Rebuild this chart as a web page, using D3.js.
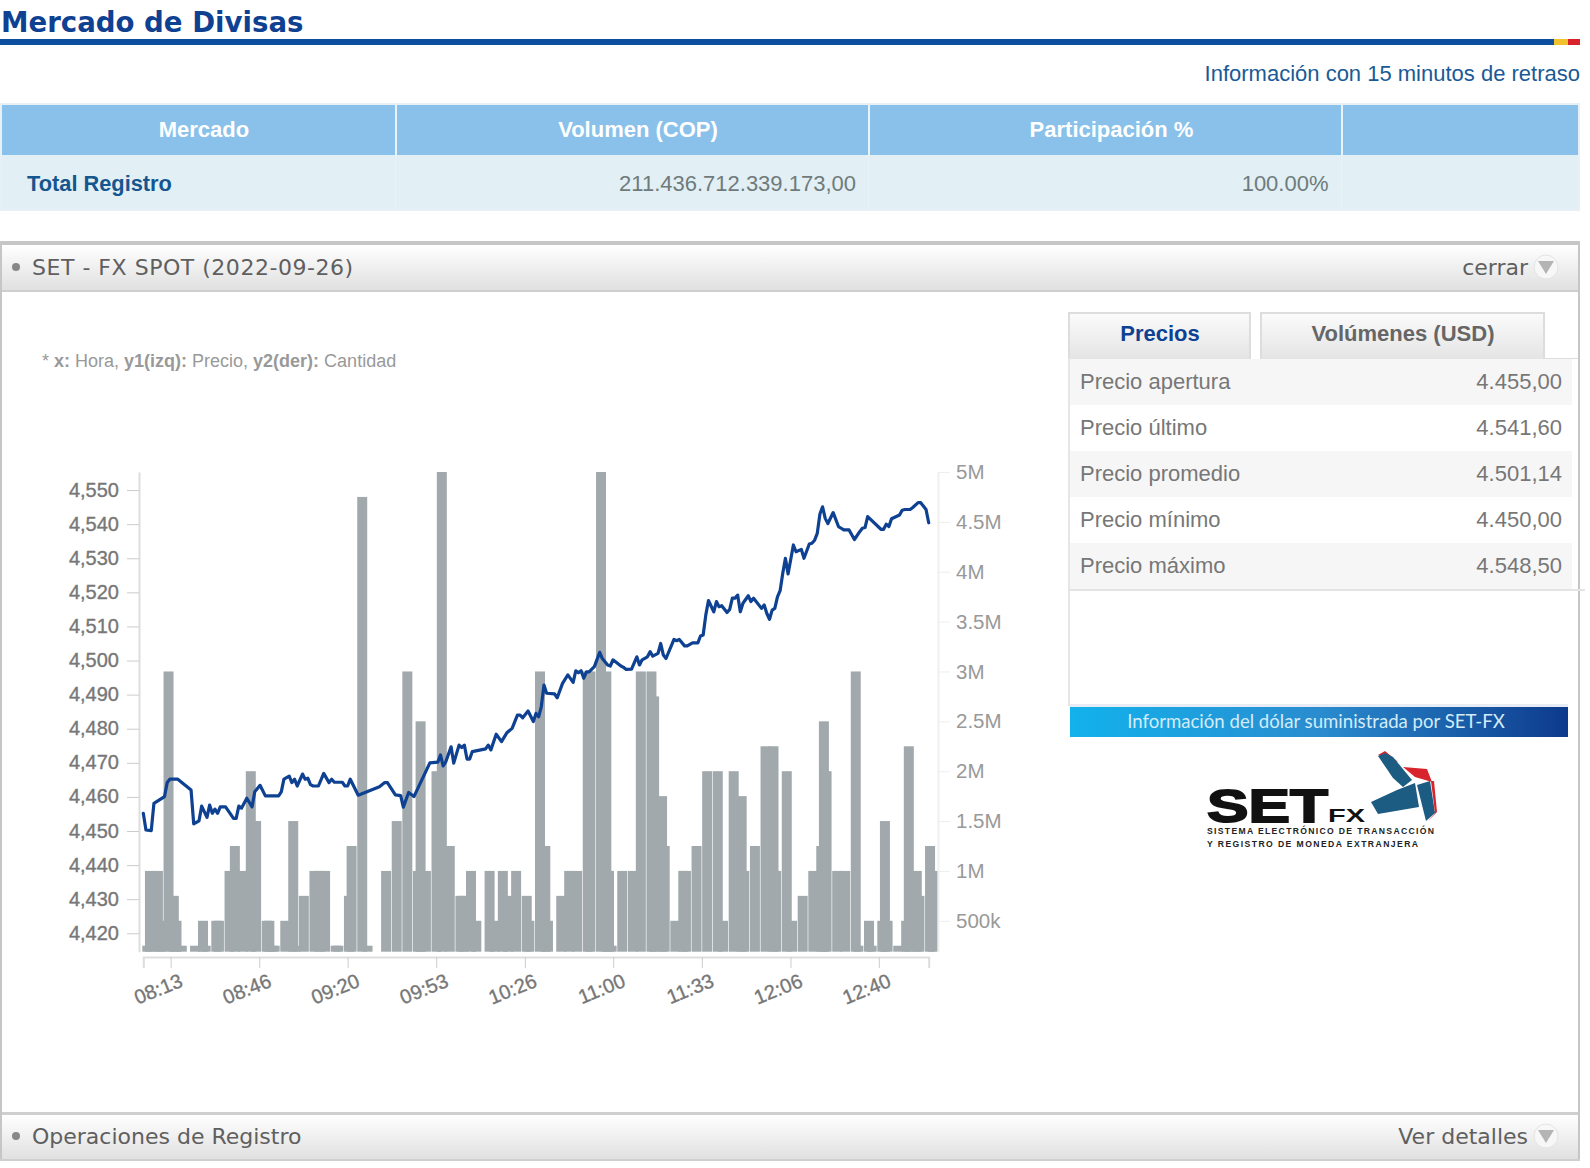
<!DOCTYPE html>
<html>
<head>
<meta charset="utf-8">
<title>Mercado de Divisas</title>
<script src="https://cdn.jsdelivr.net/npm/d3@7"></script>
<style>
  html, body { margin: 0; padding: 0; background: #fff; }
  svg { display: block; }
  text { font-family: "Liberation Sans", Arial, sans-serif; }
  .verdana { font-family: "DejaVu Sans", Verdana, sans-serif; }
</style>
</head>
<body>
<svg id="page" width="1590" height="1168"></svg>
<script>
// minutes after 08:03 for each price point
const priceMinutes = [0,1,3,4,8,9,10,13,18,19,21,22,24,25,26,27,28,29,31,34,35,36,37,39,41,42,44,46,51,52,53,55,56,57,58,60,61,62,63,64,66,68,70,71,72,75,76,77,78,81,89,91,92,95,97,98,100,102,108,111,112,113,114,116,117,119,120,121,122,123,124,129,130,131,133,135,137,139,141,142,143,145,147,148,149,150,151,152,155,156,158,160,162,163,164,165,166,167,168,170,172,173,175,176,177,180,181,182,184,186,187,188,190,191,192,194,195,196,197,200,201,202,204,205,207,209,210,211,212,213,215,216,217,218,220,221,222,223,224,225,226,228,229,230,233,234,235,236,237,238,239,240,241,242,243,245,246,248,249,251,252,253,254,255,256,257,258,260,262,263,264,266,268,270,271,272,273,278,279,280,281,282,285,286,287,289,290,292,293,295,296];
const priceValues = [4455.2,4450.3,4450.1,4458.1,4460.1,4464.2,4465.2,4465.2,4462,4452.1,4453,4457.3,4454,4457.6,4455.2,4456.4,4455.2,4457.1,4457.1,4453.7,4453.7,4457.3,4456.7,4459.6,4457.1,4461.5,4463.4,4460.3,4460.3,4461.5,4465.2,4466.1,4464.2,4465.2,4463.2,4466.7,4465.2,4465.5,4463.6,4463.2,4463.2,4466.9,4464.2,4465.2,4464.3,4464.3,4463.2,4463.2,4465.2,4460.5,4463,4464.2,4464.2,4460.6,4460.4,4457,4461.3,4460.1,4470,4470.2,4472.3,4469.1,4470.3,4474.7,4469.9,4475.2,4474.5,4475.2,4471.1,4471.1,4473.3,4474.1,4475.2,4473.8,4478.4,4476.2,4478.8,4480.1,4484,4484,4483.2,4485.2,4482.1,4484.5,4483.5,4486.5,4492.8,4490.4,4490.2,4489.1,4493.3,4495.8,4493.6,4497,4496.4,4497,4494.8,4496.7,4496.7,4498.2,4502.4,4500.6,4498.7,4498.4,4500.2,4498.4,4498,4497.4,4497.5,4501.1,4498.7,4500.2,4501.1,4502.6,4501.3,4502.1,4505,4501.6,4500.6,4506.2,4505.8,4506.2,4504.3,4504.3,4505.2,4505.2,4507.2,4507.5,4513.4,4517.6,4514.3,4517.3,4515.8,4516.1,4514.1,4515,4518.3,4518.3,4519.2,4514.3,4516.8,4519,4517.3,4518.3,4515.3,4516.3,4513.8,4512.1,4514.8,4515.3,4518.7,4520.5,4525.6,4530,4525.4,4533.9,4531.9,4532.6,4530,4534.2,4534.4,4535.3,4537.3,4543,4545.1,4541.7,4540.2,4543.4,4539.3,4538.8,4538.3,4538.3,4535.5,4537.8,4538.8,4539,4542.2,4538.5,4538.5,4540,4539.3,4541.6,4542.7,4544.1,4544.3,4544.3,4544.9,4546.3,4546.3,4544.3,4540.4];

// volume bars
const barMinutes = [0,1,4,5,8,10,11,13,18,21,22,26,27,31,33,36,39,41,45,46,47,48,52,55,56,59,63,65,67,71,72,76,77,81,83,90,94,98,102,103,105,109,111,114,118,119,122,124,129,131,134,136,139,143,144,148,150,151,156,159,162,166,167,171,173,174,175,179,183,186,190,191,194,195,199,202,203,207,211,215,217,221,224,225,229,233,236,237,241,243,247,251,254,255,256,260,263,267,268,272,273,277,278,279,283,286,287,290,291,295,296];
const barVolumes = [250000,1000000,1000000,500000,3000000,750000,500000,250000,250000,500000,250000,500000,500000,1000000,1250000,1000000,2000000,1500000,500000,500000,250000,250000,500000,1500000,250000,750000,1000000,1000000,1000000,250000,250000,750000,1250000,4750000,250000,1000000,1500000,3000000,1000000,2500000,1000000,2000000,5000000,1250000,750000,750000,1000000,500000,1000000,500000,1000000,750000,1000000,750000,500000,3000000,1250000,500000,750000,1000000,1000000,3000000,3000000,5000000,3000000,1000000,250000,1000000,1000000,3000000,3000000,2750000,1750000,1250000,500000,1000000,1000000,1250000,2000000,2000000,500000,2000000,1750000,1000000,1250000,2250000,2250000,1000000,2000000,500000,750000,1000000,1250000,2500000,2000000,1000000,1000000,3000000,250000,500000,250000,500000,1500000,500000,250000,500000,2250000,1000000,750000,1250000,1000000];

const xTickMinutes = [10.3,43.7,77,110.4,143.8,177.1,210.5,243.9,277.2];
const xTickLabels = ['08:13','08:46','09:20','09:53','10:26','11:00','11:33','12:06','12:40'];
const priceTicks = [4420,4430,4440,4450,4460,4470,4480,4490,4500,4510,4520,4530,4540,4550];
const volumeTicks = [500000,1000000,1500000,2000000,2500000,3000000,3500000,4000000,4500000,5000000];

const summaryHeaders = ['Mercado','Volumen (COP)','Participación %'];
const summaryRow = ['Total Registro','211.436.712.339.173,00','100.00%'];
const statLabels = ['Precio apertura','Precio último','Precio promedio','Precio mínimo','Precio máximo'];
const statValues = ['4.455,00','4.541,60','4.501,14','4.450,00','4.548,50'];

const svg = d3.select('#page');

// gradients
const defs = svg.append('defs');
function vGrad(id, a, b) {
  const g = defs.append('linearGradient').attr('id', id).attr('x1', 0).attr('x2', 0).attr('y1', 0).attr('y2', 1);
  g.append('stop').attr('offset', '0%').attr('stop-color', a);
  g.append('stop').attr('offset', '100%').attr('stop-color', b);
}
vGrad('bar', '#ffffff', '#e0e0e0');
vGrad('tab', '#fbfbfb', '#e4e4e4');
const bannerGrad = defs.append('linearGradient').attr('id', 'banner');
bannerGrad.append('stop').attr('offset', '0%').attr('stop-color', '#12b2ec');
bannerGrad.append('stop').attr('offset', '50%').attr('stop-color', '#2a8ccf');
bannerGrad.append('stop').attr('offset', '100%').attr('stop-color', '#0d3a8c');

function rect(x, y, w, h, fill) {
  return svg.append('rect').attr('x', x).attr('y', y).attr('width', w).attr('height', h).attr('fill', fill);
}
function label(x, y, str, size, color, anchor, weight) {
  return svg.append('text').attr('x', x).attr('y', y).text(str)
    .attr('font-size', size).attr('fill', color)
    .attr('text-anchor', anchor || 'start').attr('font-weight', weight || 'normal');
}

// page header
label(1, 32, 'Mercado de Divisas', 27.6, '#0e4192', 'start', 'bold').attr('class', 'verdana');
rect(0, 39, 1554, 6, '#0b4f9e');
rect(1554, 39, 14, 6, '#f1c12e');
rect(1568, 39, 12, 6, '#d8232a');
label(1580, 81, 'Información con 15 minutos de retraso', 22, '#1a5a96', 'end');

// summary table
rect(0, 103, 1580, 108, '#e6f0f6');
rect(2, 105, 1576, 50, '#89c1ea');
rect(2, 155, 1576, 54, '#e2eff5');
[396, 869, 1342].forEach(x => {
  rect(x - 1, 105, 2, 50, '#e8f3fb');
  rect(x - 1, 155, 1, 54, '#eaf2f6');
});
[204, 638, 1111.5].forEach((x, i) => label(x, 137, summaryHeaders[i], 22, '#fff', 'middle', 'bold'));
label(27, 191, summaryRow[0], 21.8, '#15568f', 'start', 'bold');
label(856, 191, summaryRow[1], 22, '#6f7b7b', 'end');
label(1328.5, 191, summaryRow[2], 22, '#6f7b7b', 'end');

// collapsible panel frame
function panelBar(y, h, title, action, baseline, titleLength) {
  const iconX = 1546;
  rect(2, y, 1576, h, 'url(#bar)');
  const t = label(32, baseline, title, 22, '#5f5f5f').attr('class', 'verdana');
  if (titleLength) t.attr('textLength', titleLength).attr('lengthAdjust', 'spacing');
  svg.append('circle').attr('cx', 16).attr('cy', baseline - 8).attr('r', 4).attr('fill', '#888');
  label(1528, baseline, action, 22, '#5f5f5f', 'end').attr('class', 'verdana');
  svg.append('circle').attr('cx', iconX).attr('cy', baseline - 8).attr('r', 12)
    .attr('fill', '#f7f7f7').attr('stroke', '#e4e4e4');
  svg.append('path').attr('fill', '#b4b4b4')
    .attr('d', d3.line()([[iconX - 8, baseline - 14], [iconX + 8, baseline - 14], [iconX, baseline - 1]]) + 'Z');
}
panelBar(245, 45, 'SET - FX SPOT (2022-09-26)', 'cerrar', 275, 321);
panelBar(1115, 44, 'Operaciones de Registro', 'Ver detalles', 1144);
rect(0, 241, 1580, 4, '#c6c6c6');
rect(0, 241, 2, 919, '#c6c6c6');
rect(1578, 241, 2, 919, '#c6c6c6');
rect(2, 290, 1576, 2, '#cfcfcf');
rect(2, 1112, 1576, 3, '#cfcfcf');
rect(0, 1159, 1580, 2, '#cfcfcf');

// axis legend note
const note = svg.append('text').attr('x', 42).attr('y', 367).attr('font-size', 18).attr('fill', '#999');
[['* ', false], ['x:', true], [' Hora, ', false], ['y1(izq):', true], [' Precio, ', false], ['y2(der):', true], [' Cantidad', false]]
  .forEach(d => note.append('tspan').attr('font-weight', d[1] ? 'bold' : 'normal').text(d[0]));

// Scales
const x = d3.scaleLinear().domain([0, 296]).range([143.3, 928.7]);
const yPrice = d3.scaleLinear().domain([4414.6, 4555.3]).range([951.7, 472]);
const yVolume = d3.scaleLinear().domain([190000, 5000000]).range([951.7, 472]);

// Bars
svg.append('g').selectAll('rect')
  .data(barMinutes.map((m, i) => ({ m, v: barVolumes[i] })))
  .join('rect')
  .attr('x', d => x(d.m) - 1)
  .attr('y', d => yVolume(d.v))
  .attr('width', 10)
  .attr('height', d => yVolume.range()[0] - yVolume(d.v))
  .attr('fill', '#a2a9ad');

// Line
const priceLine = d3.line().x(d => x(d[0])).y(d => yPrice(d[1]));
svg.append('path')
  .attr('d', priceLine(priceMinutes.map((m, i) => [m, priceValues[i]])))
  .attr('fill', 'none')
  .attr('stroke', '#0e4192')
  .attr('stroke-width', 3.2)
  .attr('stroke-linejoin', 'round')
  .attr('stroke-linecap', 'round');

// Axes
const axisLeft = svg.append('g').attr('transform', 'translate(139,0)')
  .call(d3.axisLeft(yPrice).tickValues(priceTicks).tickFormat(d3.format(',')).tickSize(12).tickSizeOuter(0));
axisLeft.select('.domain').attr('stroke', '#ddd').attr('stroke-width', 2);
axisLeft.selectAll('.tick line').attr('stroke', '#ccc');
axisLeft.selectAll('.tick text').attr('font-size', 20).attr('fill', '#777').attr('x', -20).attr('dy', '0.3em')
  .attr('stroke', '#777').attr('stroke-width', 0.35);

const axisRight = svg.append('g').attr('transform', 'translate(938,0)')
  .call(d3.axisRight(yVolume).tickValues(volumeTicks).tickFormat(d3.format('~s')).tickSize(12).tickSizeOuter(0));
axisRight.select('.domain').attr('stroke', '#f0f0f0').attr('stroke-width', 2);
axisRight.selectAll('.tick line').attr('stroke', '#eee');
axisRight.selectAll('.tick text').attr('font-size', 20.5).attr('fill', '#999').attr('x', 18);

const axisBottom = svg.append('g').attr('transform', 'translate(0,957)')
  .call(d3.axisBottom(x).tickValues(xTickMinutes).tickFormat((d, i) => xTickLabels[i]).tickSize(11).tickSizeOuter(11));
axisBottom.select('.domain').attr('stroke', '#ddd').attr('stroke-width', 2);
axisBottom.selectAll('.tick line').attr('stroke', '#ccc');
axisBottom.selectAll('.tick text')
  .attr('font-size', 20).attr('fill', '#777')
  .attr('stroke', '#777').attr('stroke-width', 0.35)
  .attr('text-anchor', 'end').attr('dy', null).attr('x', 13).attr('y', 29)
  .attr('transform', 'rotate(-22 13 29)');
svg.selectAll('.tick text').attr('font-family', '"Liberation Sans", Arial, sans-serif');

// Right side panel: tabs
rect(1068, 312, 183, 47, '#dddddd');
rect(1070, 314, 179, 45, 'url(#tab)');
rect(1260, 312, 285, 47, '#dddddd');
rect(1262, 314, 281, 45, 'url(#tab)');
label(1160, 341, 'Precios', 22, '#0e4192', 'middle', 'bold');
label(1403, 341, 'Volúmenes (USD)', 22, '#666', 'middle', 'bold');
rect(1545, 358, 33, 1, '#dddddd');
rect(1068, 358, 2, 348, '#e6e6e6');

// Right side panel: price stats
statLabels.forEach((s, i) => {
  const rowY = 359 + i * 46;
  if (i % 2 === 0) rect(1070, rowY, 502, 46, '#f6f6f6');
  label(1080, rowY + 30, s, 22, '#777');
  label(1562, rowY + 30, statValues[i], 22, '#777', 'end');
});
rect(1068, 589, 517, 2, '#e4e4e4');

// Banner
rect(1070, 704, 498, 3, '#e8edf5');
rect(1070, 707, 498, 30, 'url(#banner)');
label(1316, 728, 'Información del dólar suministrada por SET-FX', 18.6, '#d3ecf9', 'middle', 'normal')
  .style('font-family', 'Lato, "Open Sans", sans-serif');

// SET FX logo
label(1207, 822, 'SET', 47, '#111', 'start', 'bold')
  .attr('textLength', 121).attr('lengthAdjust', 'spacingAndGlyphs')
  .attr('stroke', '#111').attr('stroke-width', 1.8);
label(1328, 822, 'FX', 18, '#111', 'start', 'bold')
  .attr('textLength', 37).attr('lengthAdjust', 'spacingAndGlyphs');
label(1207, 833.5, 'SISTEMA ELECTRÓNICO DE TRANSACCIÓN', 8.6, '#222', 'start', 'bold')
  .attr('textLength', 227).attr('lengthAdjust', 'spacing');
label(1207, 847, 'Y REGISTRO DE MONEDA EXTRANJERA', 8.6, '#222', 'start', 'bold')
  .attr('textLength', 211).attr('lengthAdjust', 'spacing');
const logoShapes = [
  ['#d8242c', [[1378, 755], [1385, 751], [1398, 762], [1390, 760]]],
  ['#1c5c82', [[1378, 756], [1385, 753], [1393, 757], [1412, 780], [1403, 787], [1393, 778]]],
  ['#d8242c', [[1403, 767], [1427, 769], [1432, 782], [1415, 777]]],
  ['#1c5c82', [[1371, 802], [1397, 790], [1415, 783], [1419, 807], [1378, 814]]],
  ['#1c5c82', [[1417, 785], [1430, 781], [1435, 813], [1426, 821]]],
  ['#d8242c', [[1431, 781], [1434, 781], [1437, 812], [1428, 821], [1435, 813]]]
];
logoShapes.forEach(s => svg.append('path').attr('fill', s[0]).attr('d', d3.line()(s[1]) + 'Z'));
</script>
</body>
</html>
